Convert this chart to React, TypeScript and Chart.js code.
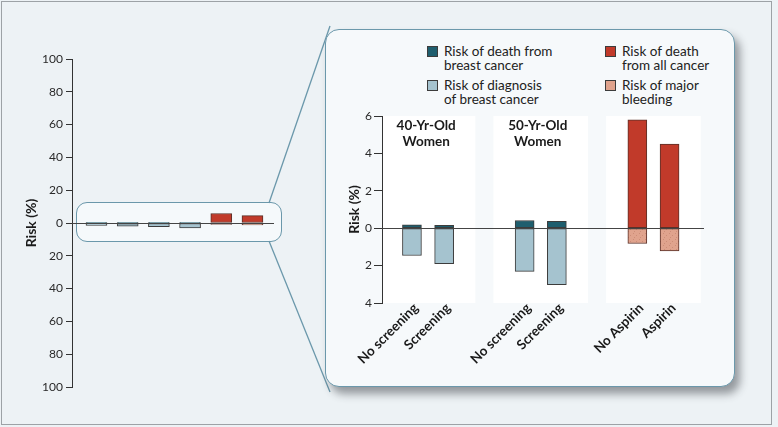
import React, { useEffect, useRef } from 'react';
import { Chart, registerables } from 'chart.js';

Chart.register(...registerables);

// ---------- data ----------
const categories = ['No screening', 'Screening', 'No screening', 'Screening', 'No Aspirin', 'Aspirin'];
const groupOf = [0, 0, 1, 1, 2, 2];
const groupTitles = [['40-Yr-Old', 'Women'], ['50-Yr-Old', 'Women'], []];
const deathBreast = [0.18, 0.16, 0.41, 0.37, null, null];
const diagnosisBreast = [-1.46, -1.9, -2.31, -3.02, null, null];
const deathAllCancer = [null, null, null, null, 5.8, 4.5];
const majorBleeding = [null, null, null, null, -0.82, -1.21];
const overviewTicks = [-100, -80, -60, -40, -20, 0, 20, 40, 60, 80, 100];
const detailTicks = [-4, -2, 0, 2, 4, 6];
const legendCol1 = ['Risk of death from\nbreast cancer', 'Risk of diagnosis\nof breast cancer'];
const legendCol2 = ['Risk of death\nfrom all cancer', 'Risk of major\nbleeding'];
const axisTitle = 'Risk (%)';

// ---------- styles ----------
const C_DEATH = '#1f5e6e';
const C_DIAG = '#a5c3cf';
const C_ALL = '#c13a2a';
const C_BLEED = '#e0a38d';
const BORDER = '#3c3c3c';
const FONT = 'Lato, "Open Sans", sans-serif';
const GROUP_STRIDE = 3.5;

const slotInGroup = categories.map((_, i) => i - groupOf.indexOf(groupOf[i]));
const detailX = categories.map((_, i) => groupOf[i] * GROUP_STRIDE + slotInGroup[i]);
const overviewX = categories.map((_, i) => i);

function makePattern(): CanvasPattern | string {
  const c = document.createElement('canvas');
  c.width = 6; c.height = 6;
  const g = c.getContext('2d');
  if (!g) return C_BLEED;
  g.fillStyle = C_BLEED; g.fillRect(0, 0, 6, 6);
  g.fillStyle = 'rgba(170,100,80,0.35)';
  g.fillRect(1, 1, 1, 1); g.fillRect(4, 3, 1, 1); g.fillRect(2, 5, 1, 1);
  const p = g.createPattern(c, 'repeat');
  return p || C_BLEED;
}

function series(arr: (number | null)[], xs: number[]) {
  const out: { x: number; y: number }[] = [];
  arr.forEach((v, i) => { if (v !== null) out.push({ x: xs[i], y: v }); });
  return out;
}

function makeDatasets(xs: number[], thickness: number, bleedFill: any) {
  const common = { grouped: false, borderWidth: 1, borderSkipped: false as const, barThickness: thickness };
  return [
    { label: 'death', data: series(deathBreast, xs), backgroundColor: C_DEATH, borderColor: BORDER, ...common },
    { label: 'diag', data: series(diagnosisBreast, xs), backgroundColor: C_DIAG, borderColor: BORDER, ...common },
    { label: 'all', data: series(deathAllCancer, xs), backgroundColor: C_ALL, borderColor: '#5a3028', ...common },
    { label: 'bleed', data: series(majorBleeding, xs), backgroundColor: bleedFill, borderColor: '#5a3028', ...common },
  ];
}

const zeroLine = {
  id: 'zeroLine',
  afterDatasetsDraw(chart: any) {
    const { ctx, chartArea, scales } = chart;
    const y = Math.round(scales.y.getPixelForValue(0)) + 0.5;
    ctx.save();
    ctx.strokeStyle = '#444';
    ctx.lineWidth = 1;
    ctx.beginPath();
    ctx.moveTo(chartArea.left, y);
    ctx.lineTo(chartArea.right, y);
    ctx.stroke();
    ctx.restore();
  },
};

const groupBoxes = {
  id: 'groupBoxes',
  beforeDraw(chart: any) {
    const { ctx, chartArea, scales } = chart;
    const nGroups = groupTitles.length;
    ctx.save();
    for (let g = 0; g < nGroups; g++) {
      const idx = groupOf.map((gg, i) => (gg === g ? i : -1)).filter((i) => i >= 0);
      const x0 = Math.max(chartArea.left + 1, scales.x.getPixelForValue(detailX[idx[0]] - 0.97));
      const x1 = Math.min(chartArea.right, scales.x.getPixelForValue(detailX[idx[idx.length - 1]] + 0.97));
      ctx.fillStyle = '#ffffff';
      ctx.fillRect(x0, chartArea.top, x1 - x0, chartArea.bottom - chartArea.top);
      ctx.fillStyle = '#1a1a1a';
      ctx.font = `bold 13.5px ${FONT}`;
      ctx.textAlign = 'center';
      ctx.textBaseline = 'middle';
      groupTitles[g].forEach((t, k) => {
        ctx.fillText(t, (x0 + x1) / 2 - 3, chartArea.top + 10 + k * 15.7);
      });
    }
    ctx.restore();
  },
};

function App() {
  const leftRef = useRef<HTMLCanvasElement>(null);
  const rightRef = useRef<HTMLCanvasElement>(null);

  useEffect(() => {
    let c1: Chart | null = null;
    let c2: Chart | null = null;
    let cancelled = false;
    const build = () => {
      if (cancelled || !leftRef.current || !rightRef.current) return;
      Chart.defaults.font.family = FONT;
      Chart.defaults.color = '#2a2a2a';
      const bleedFill = makePattern();

      c1 = new Chart(leftRef.current, {
        type: 'bar',
        data: { datasets: makeDatasets(overviewX, 21, bleedFill) as any },
        plugins: [zeroLine],
        options: {
          animation: false,
          responsive: false,
          layout: { padding: { top: 15, bottom: 17, right: 10, left: 0 } },
          plugins: { legend: { display: false }, tooltip: { enabled: false } },
          scales: {
            x: { type: 'linear', display: false, min: -0.785, max: 5.69, offset: false },
            y: {
              min: -100, max: 100,
              afterBuildTicks: (s: any) => { s.ticks = overviewTicks.map((v) => ({ value: v })); },
              afterFit: (s: any) => { s.width = 51; },
              ticks: { callback: (v: any) => String(Math.abs(v)), font: { size: 12 }, padding: 3, color: '#2a2a2a' },
              grid: { drawOnChartArea: false, tickLength: 6, color: '#333' },
              border: { color: '#333', width: 1 },
              title: { display: true, text: axisTitle, font: { size: 14, weight: 'bold' }, padding: { top: 2, bottom: 2 }, color: '#1a1a1a' },
            },
          },
        } as any,
      });

      c2 = new Chart(rightRef.current, {
        type: 'bar',
        data: { datasets: makeDatasets(detailX, 19, bleedFill) as any },
        plugins: [groupBoxes, zeroLine],
        options: {
          animation: false,
          responsive: false,
          layout: { padding: { top: 16, bottom: 0, right: 16, left: 0 } },
          plugins: { legend: { display: false }, tooltip: { enabled: false } },
          scales: {
            x: {
              type: 'linear', min: -0.93, max: 9.07, offset: false,
              afterBuildTicks: (s: any) => { s.ticks = detailX.map((v) => ({ value: v })); },
              afterFit: (s: any) => { s.height = 70; },
              ticks: {
                autoSkip: false, minRotation: 45, maxRotation: 45, padding: -11, labelOffset: 4,
                callback: (_v: any, i: number) => categories[i],
                font: { size: 13.5, weight: 'bold' }, color: '#1a1a1a',
              },
              grid: { display: false },
              border: { display: false },
            },
            y: {
              min: -4, max: 6,
              afterBuildTicks: (s: any) => { s.ticks = detailTicks.map((v) => ({ value: v })); },
              afterFit: (s: any) => { s.width = 38; },
              ticks: { callback: (v: any) => String(Math.abs(v)), font: { size: 12 }, padding: 2, color: '#2a2a2a' },
              grid: { drawOnChartArea: false, tickLength: 8, color: '#333' },
              border: { color: '#333', width: 1 },
              title: { display: true, text: axisTitle, font: { size: 14, weight: 'bold' }, padding: { top: 2, bottom: 2 }, color: '#1a1a1a' },
            },
          },
        } as any,
      });
    };
    const fonts: any = (document as any).fonts;
    if (fonts && fonts.load) {
      Promise.all([fonts.load('12px Lato'), fonts.load('bold 12px Lato')]).then(build, build);
    } else build();
    return () => {
      cancelled = true;
      if (c1) c1.destroy();
      if (c2) c2.destroy();
    };
  }, []);

  const legendItem = (text: string, color: string, left: number, top: number, key: string) => (
    <div key={key} style={{ position: 'absolute', left, top, display: 'flex', alignItems: 'flex-start' }}>
      <div style={{ width: 11, height: 11, background: color, border: `1px solid ${BORDER}`, marginTop: 2, boxSizing: 'border-box', flex: 'none', marginRight: 6 }} />
      <div style={{ font: `13.5px ${FONT}`, lineHeight: '14px', color: '#222', whiteSpace: 'pre' }}>{text}</div>
    </div>
  );

  return (
    <div style={{ position: 'absolute', left: 0, top: 0, width: 778, height: 427, background: '#edf2f5', overflow: 'hidden' }}>
      <div style={{ position: 'absolute', left: 1, top: 1, width: 771, height: 424, border: '1.5px solid #9da2a6', boxSizing: 'border-box' }} />
      {/* small zoom box on overview */}
      <div style={{ position: 'absolute', left: 76, top: 202, width: 206, height: 40, border: '1.5px solid #6b98ab', borderRadius: 11, background: '#f5f9fb', boxSizing: 'border-box' }} />
      <svg width={778} height={427} style={{ position: 'absolute', left: 0, top: 0 }}>
        <line x1={269} y1={203} x2={330} y2={26} stroke="#6b98ab" strokeWidth={1.3} />
        <line x1={269} y1={241} x2={330} y2={392} stroke="#6b98ab" strokeWidth={1.3} />
      </svg>
      <canvas ref={leftRef} width={263} height={360} style={{ position: 'absolute', left: 21, top: 44, width: 263, height: 360 }} />
      {/* detail panel */}
      <div style={{ position: 'absolute', left: 325, top: 29, width: 410, height: 358, border: '1.5px solid #6b98ab', borderRadius: 14, background: '#f6f9fb', boxSizing: 'border-box', boxShadow: '5px 7px 9px rgba(40,45,50,0.45)' }} />
      {legendItem(legendCol1[0], C_DEATH, 427, 44, 'l1')}
      {legendItem(legendCol1[1], C_DIAG, 427, 78, 'l2')}
      {legendItem(legendCol2[0], C_ALL, 605, 44, 'l3')}
      {legendItem(legendCol2[1], C_BLEED, 605, 78, 'l4')}
      <canvas ref={rightRef} width={376} height={273} style={{ position: 'absolute', left: 344, top: 100, width: 376, height: 273 }} />
    </div>
  );
}

export default App;
